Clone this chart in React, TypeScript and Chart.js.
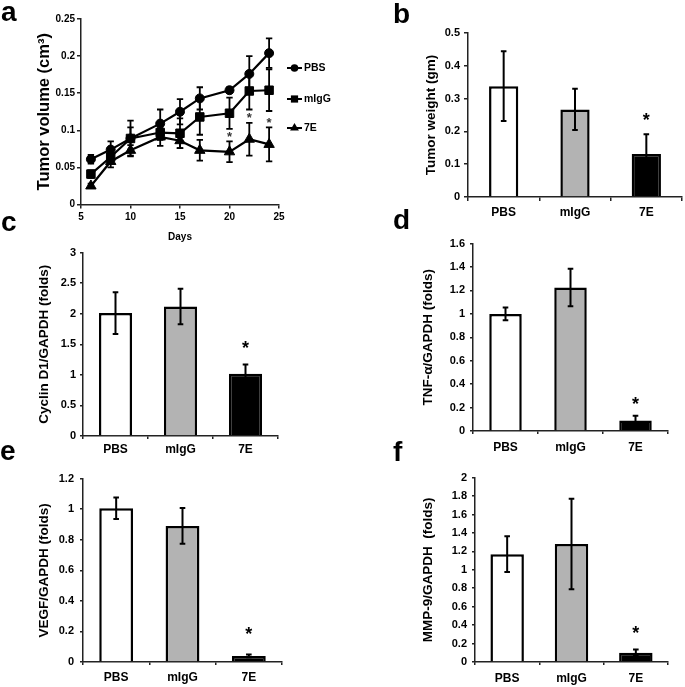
import React, { useEffect, useRef } from 'react';
import { Chart, registerables } from 'chart.js';

Chart.register(...registerables);

const FONT = "'Liberation Sans', Arial, Helvetica, sans-serif";

// ---------- Panel a: tumor volume over time ----------
const days = [6, 8, 10, 13, 15, 17, 20, 22, 24];
const pbsVol = [0.061, 0.074, 0.089, 0.109, 0.125, 0.143, 0.154, 0.176, 0.204];
const pbsVolErr = [0.006, 0.011, 0.024, 0.019, 0.017, 0.015, 0.004, 0.024, 0.02];
const migVol = [0.041, 0.064, 0.089, 0.097, 0.096, 0.118, 0.123, 0.153, 0.154];
const migVolErr = [0.005, 0.008, 0.015, 0.01, 0.02, 0.024, 0.021, 0.025, 0.028];
const e7Vol = [0.025, 0.058, 0.073, 0.091, 0.086, 0.073, 0.071, 0.088, 0.081];
const e7VolErr = [0.003, 0.008, 0.007, 0.012, 0.01, 0.014, 0.014, 0.022, 0.023];
const volStarDays = [20, 22, 24];
const seriesNames = ['PBS', 'mIgG', '7E'];

// ---------- Bar panels ----------
const groups = ['PBS', 'mIgG', '7E'];
const groupColors = ['#ffffff', '#b3b3b3', '#000000'];
const significant = [false, false, true];

const weight = [0.338, 0.267, 0.131];
const weightErr = [0.106, 0.063, 0.06];

const cyclin = [2.01, 2.12, 1.02];
const cyclinErr = [0.34, 0.29, 0.15];

const tnf = [1.0, 1.225, 0.09];
const tnfErr = [0.055, 0.16, 0.04];

const vegf = [1.006, 0.89, 0.04];
const vegfErr = [0.07, 0.117, 0.009];

const mmp = [1.17, 1.28, 0.1];
const mmpErr = [0.195, 0.49, 0.035];

const fmt = (v: any) => String(Math.round(Number(v) * 1000) / 1000);

const errorBarPlugin = {
  id: 'errbars',
  afterDatasetsDraw(chart: any, _args: any, opts: any) {
    const ctx = chart.ctx;
    const yScale = chart.scales.y;
    chart.data.datasets.forEach((ds: any, di: number) => {
      const meta = chart.getDatasetMeta(di);
      const errs = ds.errors || [];
      meta.data.forEach((el: any, i: number) => {
        const raw = ds.data[i];
        const v = typeof raw === 'number' ? raw : raw.y;
        const e = errs[i] || 0;
        const x = el.x;
        const yT = yScale.getPixelForValue(v + e);
        const yB = yScale.getPixelForValue(v - e);
        const cap = opts.cap;
        ctx.save();
        ctx.strokeStyle = '#000';
        ctx.lineWidth = opts.lineWidth;
        ctx.beginPath();
        ctx.moveTo(x, yT);
        ctx.lineTo(x, yB);
        ctx.moveTo(x - cap, yT);
        ctx.lineTo(x + cap, yT);
        ctx.moveTo(x - cap, yB);
        ctx.lineTo(x + cap, yB);
        ctx.stroke();
        if (ds.stars && ds.stars[i]) {
          ctx.fillStyle = opts.starColor;
          ctx.font = `bold ${opts.starSize}px ${FONT}`;
          ctx.textAlign = 'center';
          ctx.textBaseline = 'middle';
          ctx.fillText('*', x, yT - opts.starGap + 0.22 * opts.starSize);
        }
        ctx.restore();
      });
    });
  },
};

function drawMarker(ctx: CanvasRenderingContext2D, style: string, x: number, y: number, r: number) {
  ctx.beginPath();
  if (style === 'circle') {
    ctx.arc(x, y, r, 0, Math.PI * 2);
  } else if (style === 'rect') {
    const s = r * Math.SQRT1_2;
    ctx.rect(x - s, y - s, 2 * s, 2 * s);
  } else {
    let rad = 0;
    for (let k = 0; k < 3; k++) {
      const px = x + Math.sin(rad) * r;
      const py = y - Math.cos(rad) * r;
      if (k === 0) ctx.moveTo(px, py);
      else ctx.lineTo(px, py);
      rad += (2 * Math.PI) / 3;
    }
    ctx.closePath();
  }
  ctx.fill();
}

const sideLegendPlugin = {
  id: 'sideLegend',
  afterDraw(chart: any, _args: any, opts: any) {
    if (!opts || !opts.ys) return;
    const ctx = chart.ctx;
    ctx.save();
    chart.data.datasets.forEach((ds: any, i: number) => {
      const y = opts.ys[i];
      ctx.strokeStyle = '#000';
      ctx.fillStyle = '#000';
      ctx.lineWidth = 2;
      ctx.beginPath();
      ctx.moveTo(opts.x0, y);
      ctx.lineTo(opts.x1, y);
      ctx.stroke();
      drawMarker(ctx, ds.pointStyle, opts.xm, y, ds.pointRadius * 0.85);
      ctx.font = `bold ${opts.size}px ${FONT}`;
      ctx.textAlign = 'left';
      ctx.textBaseline = 'middle';
      ctx.fillText(ds.label, opts.xt, y + 0.5);
    });
    ctx.restore();
  },
};

type Geo = {
  cx: number; cy: number; cw: number; ch: number;
  l: number; t: number; r: number; b: number;
  titleX: number; titleSize: number;
};

function geoPads(g: Geo, bottomTitle?: { y: number; size: number }) {
  const padL = g.titleX - (g.titleSize * 1.2) / 2 - g.cx;
  const yW = g.l - (g.cx + padL);
  const padT = g.t - g.cy;
  const padR = g.cx + g.cw - g.r;
  let padB = 0;
  let xH = g.cy + g.ch - g.b;
  if (bottomTitle) {
    const sb = bottomTitle.y + (bottomTitle.size * 1.2) / 2;
    padB = g.cy + g.ch - sb;
    xH = sb - g.b;
  }
  return { padL, yW, padT, padR, padB, xH };
}

type BarPanel = {
  geo: Geo;
  values: number[];
  errors: number[];
  title: string;
  max: number;
  step: number;
  barPct: number;
  yTick: number; yPad: number;
  xTick: number; xPad: number;
  starGap: number;
};

function barConfig(p: BarPanel) {
  const g = geoPads(p.geo);
  return {
    type: 'bar',
    data: {
      labels: groups,
      datasets: [
        {
          data: p.values,
          errors: p.errors,
          stars: significant,
          backgroundColor: groupColors,
          borderColor: '#000',
          borderWidth: 2.5,
          barPercentage: p.barPct,
          categoryPercentage: 1,
        },
      ],
    },
    options: {
      animation: false,
      responsive: false,
      events: [],
      layout: { padding: { left: g.padL, top: g.padT, right: g.padR, bottom: g.padB } },
      plugins: {
        legend: { display: false },
        tooltip: { enabled: false },
        errbars: { lineWidth: 2, cap: 2.8, starSize: 18, starGap: p.starGap, starColor: '#000' },
      },
      scales: {
        x: {
          grid: { display: true, drawOnChartArea: false, drawTicks: true, tickLength: p.xTick, color: '#222', lineWidth: 1.5, offset: true },
          border: { display: true, color: '#222', width: 1.5 },
          ticks: { font: { family: FONT, size: 12, weight: 'bold' }, color: '#000', padding: p.xPad, maxRotation: 0, autoSkip: false },
          afterFit: (s: any) => { s.height = g.xH; },
        },
        y: {
          min: 0,
          max: p.max,
          grid: { display: true, drawOnChartArea: false, drawTicks: true, tickLength: p.yTick, color: '#222', lineWidth: 1.5 },
          border: { display: true, color: '#222', width: 1.5 },
          ticks: { stepSize: p.step, font: { family: FONT, size: 11, weight: 'bold' }, color: '#000', padding: p.yPad, callback: fmt },
          title: { display: true, text: p.title, font: { family: FONT, size: p.geo.titleSize, weight: 'bold' }, color: '#000', padding: 0 },
          afterFit: (s: any) => { s.width = g.yW; },
        },
      },
    },
    plugins: [errorBarPlugin],
  };
}

const geoA: Geo = { cx: 0, cy: 0, cw: 340, ch: 250, l: 81, t: 19, r: 279, b: 204.5, titleX: 44, titleSize: 16.5 };

function lineConfig() {
  const g = geoPads(geoA, { y: 237, size: 10 });
  const mk = (vals: number[]) => days.map((d, i) => ({ x: d, y: vals[i] }));
  const base = {
    borderColor: '#000',
    backgroundColor: '#000',
    pointBackgroundColor: '#000',
    pointBorderColor: '#000',
    pointBorderWidth: 1,
    borderWidth: 2.2,
    tension: 0,
  };
  return {
    type: 'line',
    data: {
      datasets: [
        { ...base, label: seriesNames[0], data: mk(pbsVol), errors: pbsVolErr, pointStyle: 'circle', pointRadius: 4.5 },
        { ...base, label: seriesNames[1], data: mk(migVol), errors: migVolErr, pointStyle: 'rect', pointRadius: 6 },
        {
          ...base,
          label: seriesNames[2],
          data: mk(e7Vol),
          errors: e7VolErr,
          pointStyle: 'triangle',
          pointRadius: 6,
          stars: days.map((d) => volStarDays.includes(d)),
        },
      ],
    },
    options: {
      animation: false,
      responsive: false,
      events: [],
      layout: { padding: { left: g.padL, top: g.padT, right: g.padR, bottom: g.padB } },
      plugins: {
        legend: { display: false },
        tooltip: { enabled: false },
        errbars: { lineWidth: 1.8, cap: 3.2, starSize: 13, starGap: 7, starColor: '#333' },
        sideLegend: { x0: 287, x1: 302, xm: 294.5, xt: 304, ys: [68, 99, 128], size: 10.5 },
      },
      scales: {
        x: {
          type: 'linear',
          min: 5,
          max: 25,
          grid: { display: true, drawOnChartArea: false, drawTicks: true, tickLength: 4, color: '#222', lineWidth: 1.5 },
          border: { display: true, color: '#222', width: 1.5 },
          ticks: { stepSize: 5, font: { family: FONT, size: 10, weight: 'bold' }, color: '#000', padding: 3, maxRotation: 0, callback: fmt },
          title: { display: true, text: 'Days', font: { family: FONT, size: 10, weight: 'bold' }, color: '#000', padding: 0 },
          afterFit: (s: any) => { s.height = g.xH; },
        },
        y: {
          min: 0,
          max: 0.25,
          grid: { display: true, drawOnChartArea: false, drawTicks: true, tickLength: 4, color: '#222', lineWidth: 1.5 },
          border: { display: true, color: '#222', width: 1.5 },
          ticks: { stepSize: 0.05, font: { family: FONT, size: 10, weight: 'bold' }, color: '#000', padding: 2, callback: fmt },
          title: { display: true, text: 'Tumor volume (cm³)', font: { family: FONT, size: geoA.titleSize, weight: 'bold' }, color: '#000', padding: 0 },
          afterFit: (s: any) => { s.width = g.yW; },
        },
      },
    },
    plugins: [errorBarPlugin, sideLegendPlugin],
  };
}

const barPanels: BarPanel[] = [
  {
    geo: { cx: 345, cy: 0, cw: 340, ch: 232, l: 468, t: 33, r: 682, b: 197, titleX: 431, titleSize: 13.5 },
    values: weight, errors: weightErr, title: 'Tumor weight (gm)', max: 0.5, step: 0.1, barPct: 0.41,
    yTick: 4, yPad: 4, xTick: 4, xPad: 4, starGap: 17,
  },
  {
    geo: { cx: 0, cy: 242, cw: 340, ch: 224, l: 83, t: 252, r: 278, b: 436, titleX: 44, titleSize: 13.5 },
    values: cyclin, errors: cyclinErr, title: 'Cyclin D1/GAPDH (folds)', max: 3, step: 0.5, barPct: 0.51,
    yTick: 3, yPad: 4, xTick: 3, xPad: 3, starGap: 19,
  },
  {
    geo: { cx: 345, cy: 232, cw: 340, ch: 234, l: 473, t: 240, r: 668, b: 431, titleX: 428, titleSize: 13.5 },
    values: tnf, errors: tnfErr, title: 'TNF-α/GAPDH (folds)', max: 1.6, step: 0.2, barPct: 0.5,
    yTick: 3, yPad: 5, xTick: 3, xPad: 6, starGap: 15,
  },
  {
    geo: { cx: 0, cy: 466, cw: 340, ch: 221, l: 83, t: 474, r: 282, b: 662, titleX: 44, titleSize: 13.5 },
    values: vegf, errors: vegfErr, title: 'VEGF/GAPDH (folds)', max: 1.2, step: 0.2, barPct: 0.51,
    yTick: 3, yPad: 6, xTick: 3, xPad: 5, starGap: 23,
  },
  {
    geo: { cx: 345, cy: 466, cw: 340, ch: 221, l: 475, t: 474, r: 668, b: 662, titleX: 428, titleSize: 13.5 },
    values: mmp, errors: mmpErr, title: 'MMP-9/GAPDH  (folds)', max: 2, step: 0.2, barPct: 0.52,
    yTick: 3, yPad: 5, xTick: 3, xPad: 6, starGap: 19,
  },
];

function ChartCanvas({ geo, make }: { geo: Geo; make: () => any }) {
  const ref = useRef<HTMLCanvasElement | null>(null);
  useEffect(() => {
    if (!ref.current) return;
    const chart = new Chart(ref.current, make());
    return () => chart.destroy();
  }, []);
  return (
    <canvas
      ref={ref}
      width={geo.cw}
      height={geo.ch}
      style={{ position: 'absolute', left: geo.cx, top: geo.cy, width: geo.cw, height: geo.ch, display: 'block' }}
    />
  );
}

const letters = [
  { t: 'a', x: 1, base: 22 },
  { t: 'b', x: 393, base: 24 },
  { t: 'c', x: 1, base: 232 },
  { t: 'd', x: 393, base: 230 },
  { t: 'e', x: 0, base: 461 },
  { t: 'f', x: 393, base: 462 },
];

export default function App() {
  const LS = 28;
  return (
    <div style={{ position: 'absolute', left: 0, top: 0, width: 685, height: 687, background: '#fff', overflow: 'hidden' }}>
      <ChartCanvas geo={geoA} make={lineConfig} />
      {barPanels.map((p, i) => (
        <ChartCanvas key={i} geo={p.geo} make={() => barConfig(p)} />
      ))}
      {letters.map((l) => (
        <div
          key={l.t}
          style={{
            position: 'absolute',
            left: l.x,
            top: l.base - 0.846 * LS,
            fontFamily: FONT,
            fontWeight: 'bold',
            fontSize: LS,
            lineHeight: `${LS}px`,
            color: '#000',
          }}
        >
          {l.t}
        </div>
      ))}
    </div>
  );
}
